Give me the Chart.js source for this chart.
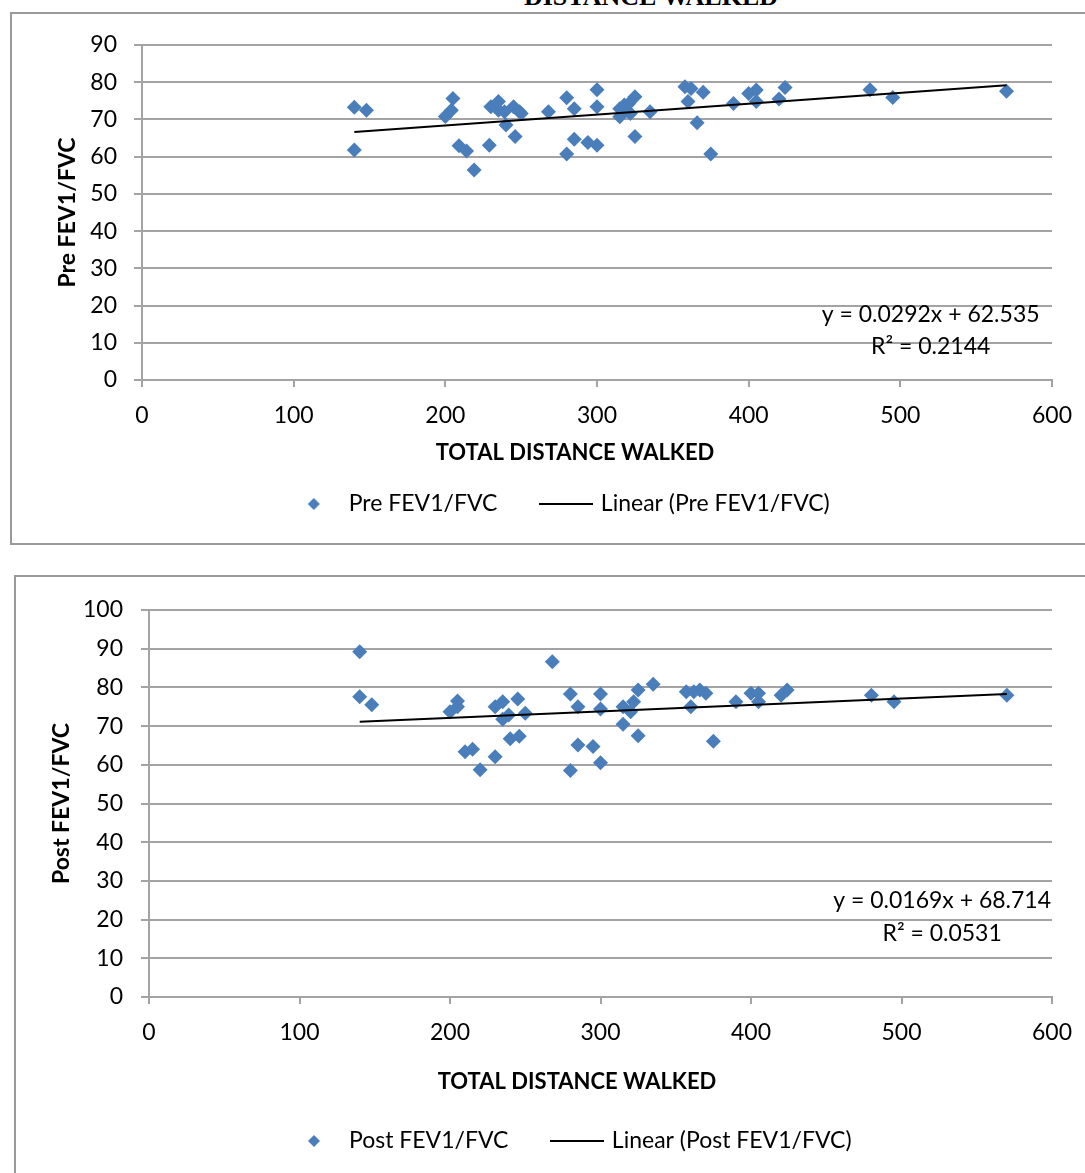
<!DOCTYPE html>
<html><head><meta charset="utf-8">
<script src="https://cdn.jsdelivr.net/npm/chart.js@4.4.0/dist/chart.umd.min.js"></script>
<style>
html,body{margin:0;padding:0;background:#fff;overflow:hidden;width:1085px;height:1173px;position:relative;}
.box{position:absolute;border:2px solid #9a9a9a;box-sizing:border-box;}
#title{position:absolute;left:0;width:1302px;text-align:center;top:-16px;font:bold 26px "Liberation Serif",serif;line-height:1;}
canvas{position:absolute;}
</style></head><body>
<div id="title">DISTANCE WALKED</div>
<div class="box" style="left:10px;top:12px;width:1100px;height:533px;"></div>
<div class="box" style="left:14px;top:575px;width:1100px;height:640px;"></div>
<canvas id="c1" width="1090" height="532" style="left:10px;top:12px;"></canvas>
<canvas id="c2" width="1080" height="598" style="left:14px;top:575px;"></canvas>
<script>
// ---- data ----
const preX = [140,140,148,200,204,205,209,214,219,229,230,235,235,239,240,245,246,249,250,268,280,280,285,285,294,300,300,300,315,315,318,321,322,325,325,335,358,362,360,366,370,375,390,400,405,405,420,424,480,495,570];
const preY = [73.3,61.8,72.5,70.8,72.5,75.6,62.9,61.5,56.4,63.1,73.4,74.8,72.5,72.1,68.5,73.4,65.4,72.1,71.6,72.1,75.8,60.7,72.9,64.7,63.8,63.1,78.0,73.4,72.9,70.7,73.9,74.3,71.6,76.1,65.4,72.1,78.8,78.3,74.8,69.1,77.3,60.7,74.3,77.0,77.9,74.8,75.5,78.6,78.0,75.9,77.6];
const postX = [140,140,148,200,205,205,210,215,220,230,235,230,239,235,245,240,246,250,268,280,280,285,285,295,300,300,300,315,315,320,322,325,325,335,357,360,362,366,370,375,390,400,405,405,420,424,480,495,570];
const postY = [89.2,77.6,75.5,73.7,76.5,75.0,63.4,64.0,58.7,75.0,76.3,62.1,72.9,71.8,77.0,66.7,67.4,73.3,86.6,78.3,58.5,75.0,65.1,64.7,78.3,74.4,60.5,75.0,70.5,73.7,76.3,79.3,67.5,80.8,78.9,75.0,78.9,79.3,78.5,66.1,76.3,78.5,78.5,76.3,78.0,79.3,78.0,76.3,78.0];
const preTrendX = [140, 570];
const preTrendY = [66.6, 79.2];
const postTrendX = [140, 570];
const postTrendY = [71.1, 78.3];
const xTicks = [0,100,200,300,400,500,600];
const preYTicks = [0,10,20,30,40,50,60,70,80,90];
const postYTicks = [0,10,20,30,40,50,60,70,80,90,100];
const preEq = ['y = 0.0292x + 62.535', 'R\u00B2 = 0.2144'];
const postEq = ['y = 0.0169x + 68.714', 'R\u00B2 = 0.0531'];
const xTitle = 'TOTAL DISTANCE WALKED';
const preName = 'Pre FEV1/FVC';
const postName = 'Post FEV1/FVC';

// ---- styling ----
const FONT = 'Lato, "Open Sans", sans-serif';
const BLUE = '#4A7EBB';
const GRID = '#a3a3a3';

function pts(xs, ys){ return xs.map((x,i)=>({x:x, y:ys[i]})); }
function diamondImg(r){
  const c=document.createElement('canvas'); c.width=c.height=2*r+2;
  const g=c.getContext('2d'); const m=r+1;
  g.fillStyle=BLUE; g.beginPath(); g.moveTo(m,1); g.lineTo(2*r+1,m); g.lineTo(m,2*r+1); g.lineTo(1,m); g.closePath(); g.fill();
  return c;
}
function lineImg(w){
  const c=document.createElement('canvas'); c.width=w; c.height=2;
  const g=c.getContext('2d'); g.fillStyle='#000'; g.fillRect(0,0,w,2); return c;
}
const legendKeys = [diamondImg(6), lineImg(54)];

const eqPlugin = {
  id:'eqLabel',
  afterDatasetsDraw(chart, args, o){
    const {ctx, scales:{x,y}} = chart;
    ctx.save(); ctx.font = o.size+'px '+FONT; ctx.fillStyle='#000';
    ctx.textAlign='center'; ctx.textBaseline='middle';
    o.lines.forEach((t,i)=>ctx.fillText(t, x.getPixelForValue(o.x), y.getPixelForValue(o.y[i])));
    ctx.restore();
  }
};
const xTitlePlugin = {
  id:'xTitleText',
  afterDraw(chart, args, o){
    const ctx = chart.ctx;
    ctx.save(); ctx.font = 'bold '+o.size+'px '+FONT; ctx.fillStyle='#000';
    ctx.textAlign='center'; ctx.textBaseline='middle';
    ctx.fillText(o.text, o.cx, o.cy);
    ctx.restore();
  }
};
const legendPos = {
  id:'legendPos',
  afterLayout(chart, args, o){
    const lg = chart.legend; if(!lg) return;
    const w = lg.right-lg.left, h = lg.bottom-lg.top;
    lg.left = o.cx - w/2; lg.right = lg.left + w;
    lg.top = o.cy - o.pad - o.fs/2; lg.bottom = lg.top + h;
  }
};

function makeChart(id, s){
  const LP = 45, LFS = 23;
  return new Chart(document.getElementById(id), {
    type:'scatter',
    data:{ datasets:[
      { label:s.name, data:pts(s.xs, s.ys), pointStyle:'rectRot', pointRadius:7.5, pointHoverRadius:7.5,
        backgroundColor:BLUE, borderColor:BLUE, borderWidth:0, order:2 },
      { type:'line', label:'Linear ('+s.name+')', data:pts(s.tx, s.ty), borderColor:'#000', backgroundColor:'#000',
        borderWidth:2, pointRadius:0, showLine:true, fill:false, order:1 }
    ]},
    options:{
      responsive:false, animation:false, events:[],
      layout:{ padding:{ left:0, right:s.padR, top:s.padT, bottom:0 } },
      scales:{
        x:{ type:'linear', min:xTicks[0], max:xTicks[xTicks.length-1],
            afterFit:(sc)=>{ sc.height = s.xH; },
            ticks:{ stepSize:xTicks[1]-xTicks[0], color:'#000', padding:15, font:{family:FONT, size:23} },
            grid:{ drawOnChartArea:false, drawTicks:true, tickLength:7, color:GRID, lineWidth:2 },
            border:{ display:true, color:GRID, width:2 },
            title:{ display:false } },
        y:{ type:'linear', min:s.yTicks[0], max:s.yTicks[s.yTicks.length-1],
            afterFit:(sc)=>{ sc.width = s.yW; },
            ticks:{ stepSize:s.yTicks[1]-s.yTicks[0], color:'#000', padding:s.yPad, font:{family:FONT, size:23} },
            grid:{ drawTicks:true, tickLength:8, color:GRID, lineWidth:2 },
            border:{ display:true, color:GRID, width:2 },
            title:{ display:true, text:s.name, color:'#000', padding:{top:s.yTitlePad,bottom:0}, font:{family:FONT, size:23, weight:'bold', lineHeight:1.2} } }
      },
      plugins:{
        tooltip:{ enabled:false },
        title:{ display:false },
        legend:{ display:true, position:'bottom', align:'center',
          labels:{ usePointStyle:true, pointStyleWidth:47, padding:LP, color:'#000', font:{family:FONT, size:LFS},
            generateLabels:(chart)=>{
              const items = Chart.defaults.plugins.legend.labels.generateLabels(chart);
              items.sort((a,b)=>a.datasetIndex-b.datasetIndex);
              items.forEach(it=>{ it.pointStyle = legendKeys[it.datasetIndex]; it.fontColor='#000'; });
              return items;
            } } },
        eqLabel:{ lines:s.eq, x:s.eqX, y:s.eqY, size:23 },
        xTitleText:{ text:xTitle, cx:s.xtCx, cy:s.xtCy, size:22 },
        legendPos:{ cx:s.legCx, cy:s.legCy, pad:LP, fs:LFS }
      }
    },
    plugins:[eqPlugin, xTitlePlugin, legendPos]
  });
}

makeChart('c1', { name:preName, xs:preX, ys:preY, tx:preTrendX, ty:preTrendY, yTicks:preYTicks, eq:preEq,
  eqX:520, eqY:[17.7, 8.9], padR:48, padT:33, xH:86, yW:132, yPad:17, yTitlePad:44,
  xtCx:565, xtCy:441, legCx:550, legCy:492 });
makeChart('c2', { name:postName, xs:postX, ys:postY, tx:postTrendX, ty:postTrendY, yTicks:postYTicks, eq:postEq,
  eqX:527, eqY:[24.8, 16.3], padR:42, padT:35, xH:98, yW:135, yPad:18, yTitlePad:34,
  xtCx:563, xtCy:507, legCx:557, legCy:566 });
</script>
</body></html>
